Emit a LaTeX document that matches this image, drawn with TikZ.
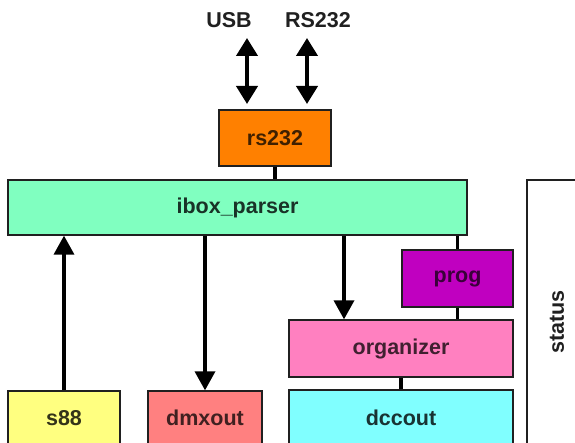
\documentclass[tikz,border=0pt]{standalone}
\usepackage{fontspec}
\setmainfont{Liberation Sans}
\usetikzlibrary{arrows.meta}
\definecolor{cOrange}{HTML}{FF8000}
\definecolor{cParser}{HTML}{80FFC0}
\definecolor{cProg}{HTML}{C000C0}
\definecolor{cOrg}{HTML}{FF80C0}
\definecolor{cDcc}{HTML}{80FFFF}
\definecolor{cS88}{HTML}{FFFF80}
\definecolor{cDmx}{HTML}{FF8080}
\definecolor{cLine}{HTML}{202020}
\begin{document}
\begin{tikzpicture}[x=1pt,y=-1pt,
  blk/.style={draw=cLine, line width=1.3pt, rectangle, inner sep=0pt,
    font=\fontsize{21.5}{24}\selectfont\bfseries, text=cLine},
  conn/.style={draw=black, line width=3.5pt},
  arr/.style={draw=black, line width=3.5pt, -{Triangle[length=19pt,width=20pt]}},
  dbl/.style={draw=black, line width=4pt, {Triangle[length=18pt,width=21pt]}-{Triangle[length=18pt,width=21pt]}},
  lbl/.style={font=\fontsize{21.5}{24}\selectfont\bfseries, text=cLine, inner sep=0pt}]
\useasboundingbox (0,0) rectangle (575,443);
\clip (0,0) rectangle (575,443);
\fill[white] (0,0) rectangle (575,443);
% top labels
\node[lbl] (usb) at (229,20) {USB};
\node[lbl] (rsl) at (318,20) {RS232};
\coordinate (u1) at (247,38);
\coordinate (u2) at (247,104);
\coordinate (r1) at (307,38);
\coordinate (r2) at (307,104);
% boxes
\node[blk, fill=cOrange, text=cOrange!25!black, minimum width=112pt, minimum height=56pt] (rs) at (275,138) {rs232};
\node[blk, fill=cParser, text=cParser!20!black, minimum width=459pt, minimum height=55pt] (ib) at (237.5,207.5) {ibox\_parser};
\node[blk, fill=cProg, text=cProg!30!black, minimum width=111pt, minimum height=57pt] (prog) at (457.5,278.5) {prog};
\node[blk, fill=cOrg, text=cOrg!25!black, minimum width=224pt, minimum height=57pt] (org) at (401,348.5) {organizer};
\node[blk, fill=cDcc, text=cDcc!20!black, minimum width=224pt, minimum height=56pt] (dcc) at (401,418) {dccout};
\node[blk, fill=cS88, text=cS88!20!black, minimum width=112pt, minimum height=54pt] (s88) at (64,418) {s88};
\node[blk, fill=cDmx, text=cDmx!25!black, minimum width=114pt, minimum height=54pt] (dmx) at (205,418) {dmxout};
\node[blk, fill=white, minimum width=70pt, minimum height=290pt] (st) at (562,325) {};
\node[lbl, rotate=90] (stl) at (557,322) {status};
% connectors
\draw[dbl] (u1) -- (u2);
\draw[dbl] (r1) -- (r2);
\draw[conn] (rs.south) -- (rs.south |- ib.north);
\draw[arr] (s88.north) -- (ib.south -| s88.north);
\draw[arr] (ib.south -| dmx.north) -- (dmx.north);
\coordinate (oa) at (344,0);
\draw[arr] (ib.south -| oa) -- (org.north -| oa);
\draw[conn] (ib.south -| prog.north) -- (prog.north);
\draw[conn] (prog.south) -- (org.north -| prog.south);
\draw[conn] (org.south) -- (dcc.north);
\end{tikzpicture}
\end{document}
